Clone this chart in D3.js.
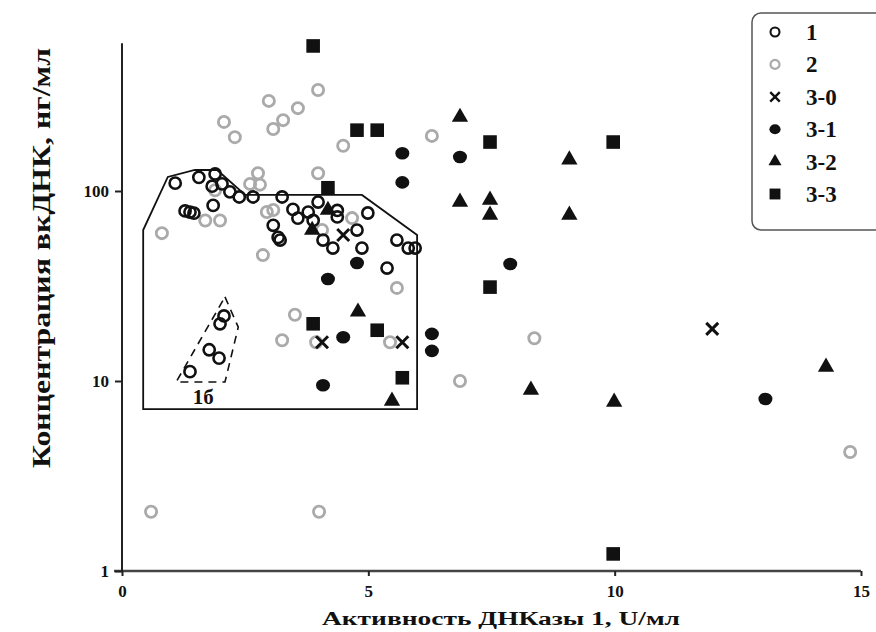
<!DOCTYPE html>
<html>
<head>
<meta charset="utf-8">
<script src="https://cdn.jsdelivr.net/npm/d3@7/dist/d3.min.js"></script>
<style>
  html, body { margin: 0; padding: 0; background: #fff; }
  svg { display: block; }
  text { font-family: "Liberation Serif", "Times New Roman", serif; font-weight: bold; fill: #111; }
</style>
</head>
<body>
<svg id="chart" width="876" height="632"></svg>
<script>
// DNase 1 activity (U/ml) vs. cfDNA concentration (ng/ml), by group
const group1 = [
  [1.08,110],[1.56,118],[1.89,123],[1.83,106],[2.03,109],[2.19,99],[2.38,93],[2.66,93],
  [3.25,93],[1.85,84],[1.28,78.5],[1.38,77.5],[1.46,76.5],[3.07,66],[3.17,57],[3.47,80],
  [3.78,77.5],[3.57,72],[3.88,70],[3.98,87.5],[4.37,79],[4.37,73],[4.99,76.6],[4.77,62.3],
  [3.21,55.2],[4.08,55.2],[4.28,50.1],[4.87,50.1],[5.58,55.2],[5.81,50.1],[5.95,50.1],[5.38,39.3],
  [2.07,22],[1.99,20],[1.77,14.6],[1.97,13.2],[1.38,11.2]
];
const group2 = [
  [2.07,231],[2.29,192],[2.98,298],[3.07,212],[3.27,236],[3.57,273],[3.98,340],[4.49,173],
  [2.76,124],[2.6,109],[2.8,108],[1.89,101],[1.69,70],[1.99,70],[2.94,77.5],[3.07,79.4],
  [0.81,60],[2.86,46],[3.98,124],[4.67,72],[6.29,195],[5.58,30.9],[3.51,22.3],[3.25,16.4],
  [3.94,16],[5.44,16],[8.37,16.8],[6.86,10],[14.78,4.23],[0.59,2.05],[4.0,2.05],[4.06,62.3]
];
const group30 = [[4.49,58.7],[4.06,16],[5.69,16],[11.98,18.8]];
const group31 = [
  [5.69,158],[6.86,151],[5.69,111],[4.18,34.4],[4.77,41.8],[7.88,41.3],
  [4.49,17],[6.29,17.7],[6.29,14.4],[4.08,9.5],[13.06,8.04]
];
const group32 = [
  [6.86,245],[9.08,146],[6.86,87.5],[7.47,89.7],[7.47,74.8],[9.08,74.8],[4.18,79.4],
  [3.86,62.3],[4.79,23.1],[5.48,7.85],[8.3,8.97],[9.99,7.75],[14.29,11.85]
];
const group33 = [
  [3.88,580],[4.77,209],[5.18,209],[7.47,181],[9.97,181],[4.18,104],[7.47,31.2],
  [3.88,20],[5.18,18.5],[5.69,10.4],[9.97,1.23]
];
const legendLabels = ["1","2","3-0","3-1","3-2","3-3"];
const xTicks = [0,5,10,15];
const yTicks = [1,10,100];
// outlined cluster regions (data coordinates)
const regionMain = [[0.43,7.12],[0.43,62.3],[0.93,118.5],[1.48,129],[1.93,129],[2.5,95.3],
  [4.87,95.3],[5.99,58.7],[5.99,7.12]];
const regionSub = [[2.09,27.7],[2.36,19.2],[2.09,9.88],[1.1,9.88]];
const regionSubLabel = "1б";

const svg = d3.select("#chart");
const decade = 190;
const yBase = 571;
const yMax = 600;
const x = d3.scaleLinear().domain([0, 15]).range([122, 861]);
const y = d3.scaleLog().domain([1, yMax]).range([yBase, yBase - decade * Math.log10(yMax)]);

// region outlines
const line = d3.line().x(d => x(d[0])).y(d => y(d[1])).curve(d3.curveLinearClosed);
svg.append("path").attr("d", line(regionMain))
  .attr("fill", "none").attr("stroke", "#111").attr("stroke-width", 1.8);
svg.append("path").attr("d", line(regionSub))
  .attr("fill", "none").attr("stroke", "#111").attr("stroke-width", 1.6)
  .attr("stroke-dasharray", "8,6");
svg.append("text").attr("x", x(1.65)).attr("y", y(7.6))
  .attr("text-anchor", "middle").attr("font-size", 21).text(regionSubLabel);

// axes
const xAxis = svg.append("g").attr("transform", `translate(0,${yBase})`)
  .call(d3.axisBottom(x).tickValues(xTicks).tickFormat(d3.format("d")).tickSize(5).tickPadding(6));
const yAxis = svg.append("g").attr("transform", `translate(${x(0)},0)`)
  .call(d3.axisLeft(y).tickValues(yTicks).tickFormat(d3.format("d")).tickSize(7).tickPadding(6));
xAxis.select(".domain").attr("stroke", "#444").attr("stroke-width", 2.6).attr("d", `M${x(0)-8},0H${x(15)}`);
yAxis.select(".domain").attr("stroke", "#222").attr("stroke-width", 2).attr("d", `M0,${y(yMax)}V${yBase}`);
svg.selectAll(".tick line").attr("stroke", "#222").attr("stroke-width", 2);
svg.selectAll(".tick text").attr("font-size", 17).attr("font-family", "Liberation Serif").attr("font-weight", "bold").attr("fill", "#111");
xAxis.selectAll(".tick text").attr("dy", "0.9em");

// axis titles
svg.append("text").attr("x", 501).attr("y", 625).attr("text-anchor", "middle")
  .attr("font-size", 18).attr("textLength", 358).attr("lengthAdjust", "spacingAndGlyphs")
  .text("Активность ДНКазы 1,  U/мл");
svg.append("text").attr("transform", "translate(50,258) rotate(-90)").attr("text-anchor", "middle")
  .attr("font-size", 25).attr("textLength", 420).attr("lengthAdjust", "spacingAndGlyphs")
  .text("Концентрация вкДНК, нг/мл");

// marker painters
const painters = {
  open: (g, s) => g.append("circle").attr("r", 5.6 * s).attr("fill", "none").attr("stroke", "#111").attr("stroke-width", 2.6 * s),
  gray: (g, s) => g.append("circle").attr("r", 5.6 * s).attr("fill", "none").attr("stroke", "#aaa").attr("stroke-width", 2.8 * s),
  cross: (g, s) => g.append("path").attr("d", d3.symbol(d3.symbolX, 95 * s * s)()).attr("stroke", "#111").attr("stroke-width", 3 * s).attr("fill", "none"),
  dot: (g, s) => g.append("ellipse").attr("rx", 7 * s).attr("ry", 6.3 * s).attr("fill", "#111"),
  tri: (g, s) => g.append("path").attr("d", d3.symbol(d3.symbolTriangle, 115 * s * s)()).attr("fill", "#111"),
  sq: (g, s) => g.append("path").attr("d", d3.symbol(d3.symbolSquare, 185 * s * s)()).attr("fill", "#111")
};
const series = [
  { data: group2, kind: "gray" },
  { data: group1, kind: "open" },
  { data: group30, kind: "cross" },
  { data: group31, kind: "dot" },
  { data: group32, kind: "tri" },
  { data: group33, kind: "sq" }
];
series.forEach(sr => {
  svg.append("g").selectAll("g").data(sr.data).join("g")
    .attr("transform", d => `translate(${x(d[0])},${y(d[1])})`)
    .each(function () { painters[sr.kind](d3.select(this), 1); });
});

// legend
const legend = svg.append("g");
legend.append("rect").attr("x", 752).attr("y", 13).attr("width", 140).attr("height", 217)
  .attr("rx", 9).attr("fill", "#fff").attr("stroke", "#555").attr("stroke-width", 1.5);
const legendKinds = ["open","gray","cross","dot","tri","sq"];
const legendY = d3.scalePoint().domain(legendLabels).range([32, 194]);
legendLabels.forEach((lab, i) => {
  const row = legend.append("g").attr("transform", `translate(0,${legendY(lab)})`);
  painters[legendKinds[i]](row.append("g").attr("transform", "translate(775,0)"), 0.8);
  row.append("text").attr("x", 806).attr("y", 8).attr("font-size", 23).text(lab);
});
</script>
</body>
</html>
